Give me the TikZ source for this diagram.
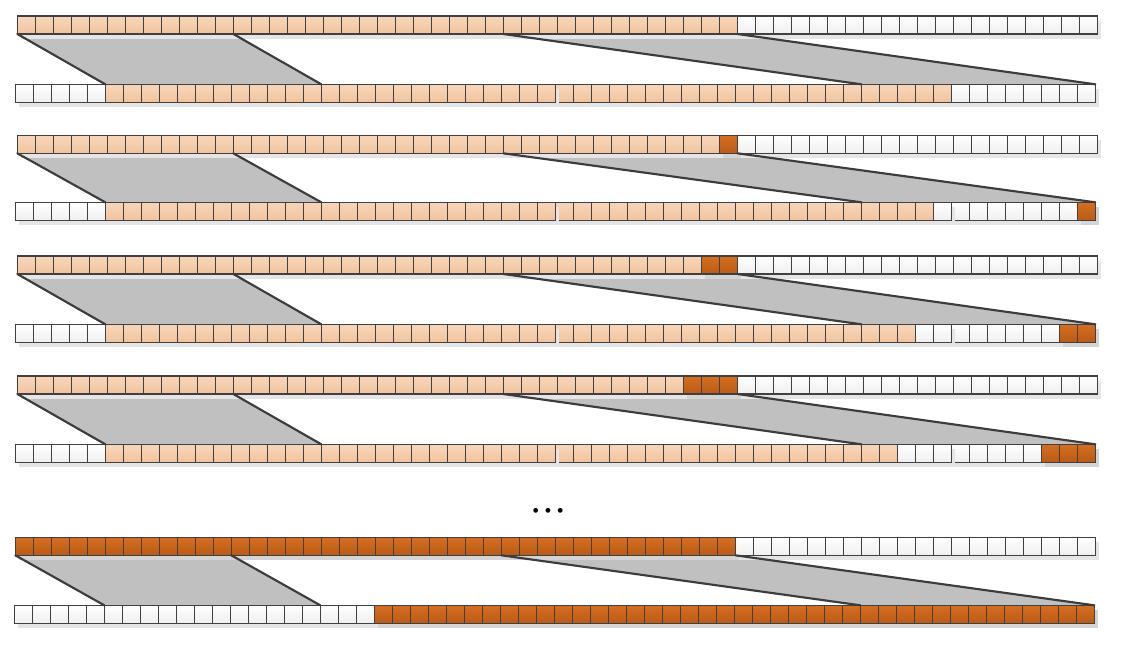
\documentclass[tikz,border=0pt]{standalone}
\usetikzlibrary{shadows}
\pgfdeclarelayer{bg}
\pgfsetlayers{bg,main}
\definecolor{edge}{HTML}{404040}
\definecolor{wt}{HTML}{FFFFFF}
\definecolor{wb}{HTML}{EFEFEF}
\definecolor{lt}{HTML}{F8D6BA}
\definecolor{lb}{HTML}{F1C39E}
\definecolor{dt}{HTML}{D46F20}
\definecolor{db}{HTML}{BA5A16}
\definecolor{parfill}{HTML}{C0C0C0}
\definecolor{linkcol}{HTML}{3C3C3C}
\tikzset{
  cellbase/.style={draw=edge, line width=0.9pt, minimum size=13.5pt, inner sep=0pt, outer sep=0pt, anchor=north west},
  cw/.style={cellbase, top color=wt, bottom color=wb, drop shadow={shadow xshift=3pt, shadow yshift=-3.4pt, fill=black!10, opacity=1}},
  cl/.style={cellbase, top color=lt, bottom color=lb, drop shadow={shadow xshift=3pt, shadow yshift=-3.4pt, fill=black!10, opacity=1}},
  cd/.style={cellbase, top color=dt, bottom color=db, drop shadow={shadow xshift=3pt, shadow yshift=-3.4pt, fill=black!17, opacity=1}},
  band/.style={fill=parfill},
  link/.style={draw=linkcol, line width=1.6pt, line cap=round},
}
\newcommand\setcols[4]{\def\La{#1}\def\Lb{#2}\def\Da{#3}\def\Db{#4}}
\newcommand\mkcell[4]{\node[#1] (#2) at (#3,#4) {};}
% #1 name prefix, #2 x0, #3 y, #4 from, #5 to
\newcommand\cellseg[5]{%
  \foreach \i in {#4,...,#5}{%
    \def\st{cw}%
    \ifnum\i<\Lb\relax \ifnum\i<\La\relax\else\def\st{cl}\fi\fi
    \ifnum\i<\Db\relax \ifnum\i<\Da\relax\else\def\st{cd}\fi\fi
    \pgfmathsetmacro\cx{#2+18*\i}%
    \expandafter\mkcell\expandafter{\st}{#1-\i}{\cx}{#3}%
  }}
\begin{document}
\begin{tikzpicture}[x=0.75pt,y=-0.75pt]
\useasboundingbox (0,0) rectangle (1125,654);
% pair 1
\setcols{0}{40}{0}{0}\cellseg{t1}{17.3}{16}{0}{59}
\setcols{5}{52}{60}{60}\cellseg{b1}{15.3}{84.3}{30}{59}\cellseg{b1}{15.3}{84.3}{0}{29}
% pair 2
\setcols{0}{39}{39}{40}\cellseg{t2}{17.3}{135.3}{0}{59}
\setcols{5}{51}{59}{60}\cellseg{b2}{15.3}{202.3}{52}{59}\cellseg{b2}{15.3}{202.3}{30}{51}\cellseg{b2}{15.3}{202.3}{0}{29}
% pair 3
\setcols{0}{38}{38}{40}\cellseg{t3}{17.3}{256}{0}{59}
\setcols{5}{50}{58}{60}\cellseg{b3}{15.3}{324.3}{52}{59}\cellseg{b3}{15.3}{324.3}{30}{51}\cellseg{b3}{15.3}{324.3}{0}{29}
% pair 4
\setcols{0}{37}{37}{40}\cellseg{t4}{17.3}{376}{0}{59}
\setcols{5}{49}{57}{60}\cellseg{b4}{15.3}{444.3}{52}{59}\cellseg{b4}{15.3}{444.3}{30}{51}\cellseg{b4}{15.3}{444.3}{0}{29}
% pair 5
\setcols{0}{0}{0}{40}\cellseg{t5}{15.3}{537.3}{0}{59}
\setcols{0}{0}{20}{60}\cellseg{b5}{14.3}{605.3}{0}{59}
% bands
\foreach \p in {1,...,5}{
  \begin{pgfonlayer}{bg}
    \path[band] (t\p-0.south west) -- (t\p-11.south east) -- (b\p-16.north east) -- (b\p-5.north west) -- cycle;
    \path[band] (t\p-27.south west) -- (t\p-39.south east) -- (b\p-59.north east) -- (b\p-47.north west) -- cycle;
  \end{pgfonlayer}
  \draw[link] (t\p-0.south west) -- (b\p-5.north west);
  \draw[link] (t\p-11.south east) -- (b\p-16.north east);
  \draw[link] (t\p-27.south west) -- (b\p-47.north west);
  \draw[link] (t\p-39.south east) -- (b\p-59.north east);
}
\node[inner sep=0pt] (dots) at (548,512) {\fontsize{16}{16}\selectfont\textbullet\hspace{-2.3pt}\textbullet\hspace{-2.3pt}\textbullet};
\end{tikzpicture}
\end{document}
